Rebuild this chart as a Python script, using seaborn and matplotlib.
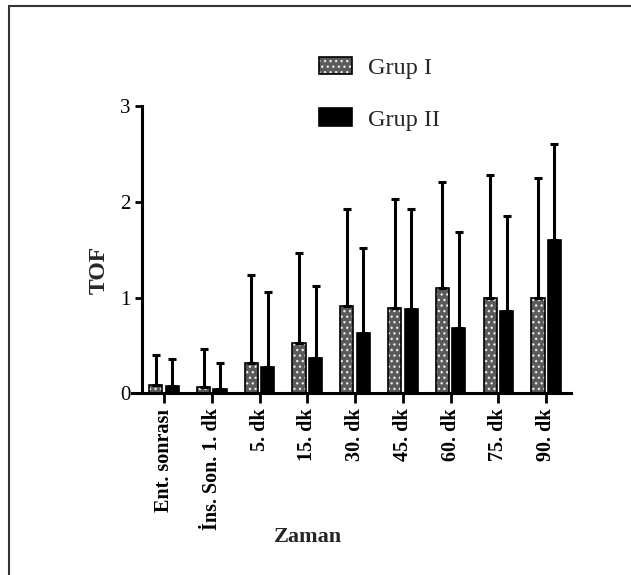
import numpy as np
import pandas as pd
import seaborn as sns
import matplotlib.pyplot as plt
from matplotlib.lines import Line2D

sns.set_theme(style='ticks')
plt.rcParams['font.family'] = ['Liberation Serif', 'DejaVu Serif']
plt.rcParams['hatch.linewidth'] = 1.0

zaman = ["Ent. sonrası", "İns. Son. 1. dk", "5. dk", "15. dk", "30. dk",
         "45. dk", "60. dk", "75. dk", "90. dk"]
grup1_mean = [0.09, 0.07, 0.32, 0.52, 0.91, 0.89, 1.10, 0.99, 0.99]
grup1_sd = [0.31, 0.39, 0.92, 0.95, 1.01, 1.14, 1.11, 1.29, 1.26]
grup2_mean = [0.08, 0.045, 0.27, 0.37, 0.63, 0.88, 0.68, 0.86, 1.60]
grup2_sd = [0.28, 0.275, 0.79, 0.75, 0.89, 1.04, 1.00, 0.99, 1.00]
groups = ["Grup I", "Grup II"]

df = pd.DataFrame({
    "Zaman": zaman * 2,
    "TOF": grup1_mean + grup2_mean,
    "Grup": [groups[0]] * len(zaman) + [groups[1]] * len(zaman),
})
sds = [grup1_sd, grup2_sd]

fig = plt.figure(figsize=(6.31, 5.75), dpi=100)
ax = fig.add_axes([0.2087, 0.316, 0.6963, 0.4997])

sns.barplot(data=df, x="Zaman", y="TOF", hue="Grup", order=zaman,
            palette=["#5a5a5a", "black"], width=0.69, gap=0.2,
            edgecolor="black", linewidth=1.2, errorbar=None, ax=ax)

# upper-only error bars for both groups
for cont, sd in zip(ax.containers, sds):
    xs = [p.get_x() + p.get_width() / 2 for p in cont]
    hs = [p.get_height() for p in cont]
    ax.errorbar(xs, hs, yerr=[np.zeros(len(sd)), sd], fmt="none",
                ecolor="black", elinewidth=2.2, capsize=3, capthick=2.2,
                zorder=1)


def dotted(p):
    p.set_hatch("...")
    p._hatch_color = (1, 1, 1, 0.8)


for p in ax.containers[0]:
    dotted(p)

ax.set_xlim(-0.676, 8.52)
ax.set_ylim(0, 3)
ax.set_yticks([0, 1, 2, 3])
ax.spines["left"].set_position(("data", -0.467))
ax.spines["top"].set_visible(False)
ax.spines["right"].set_visible(False)
for s in ["left", "bottom"]:
    ax.spines[s].set_linewidth(2.2)
    ax.spines[s].set_color("black")
ax.tick_params(axis="y", length=5, width=2, labelsize=15, pad=3,
               colors="black")
ax.tick_params(axis="x", length=7, width=2, labelsize=14.5, pad=4,
               colors="black")
for lab in ax.get_xticklabels():
    lab.set_rotation(90)
    lab.set_fontweight("bold")

ax.set_xlabel("Zaman", fontsize=16, fontweight="bold")
ax.xaxis.set_label_coords(0.401, -0.465)
ax.set_ylabel("TOF", fontsize=17, fontweight="bold")
ax.yaxis.label.set_va("center")
ax.yaxis.set_label_coords(-0.074, 0.43)

handles, labels = ax.get_legend_handles_labels()
leg = ax.legend(handles, labels, loc="upper left",
                bbox_to_anchor=(0.5055, 0.9016), bbox_transform=fig.transFigure,
                frameon=False, fontsize=17.5, handlelength=1.35,
                handleheight=0.72, handletextpad=0.68, labelspacing=1.22,
                borderpad=0, borderaxespad=0)
dotted(leg.legend_handles[0])

# page frame (left and top edges)
fig.add_artist(Line2D([9 / 631, 9 / 631], [0, 1 - 6 / 575],
                      transform=fig.transFigure, color="#333333", lw=1.5))
fig.add_artist(Line2D([9 / 631, 1], [1 - 6 / 575, 1 - 6 / 575],
                      transform=fig.transFigure, color="#333333", lw=1.5))

fig.savefig("out.png", dpi=100)
